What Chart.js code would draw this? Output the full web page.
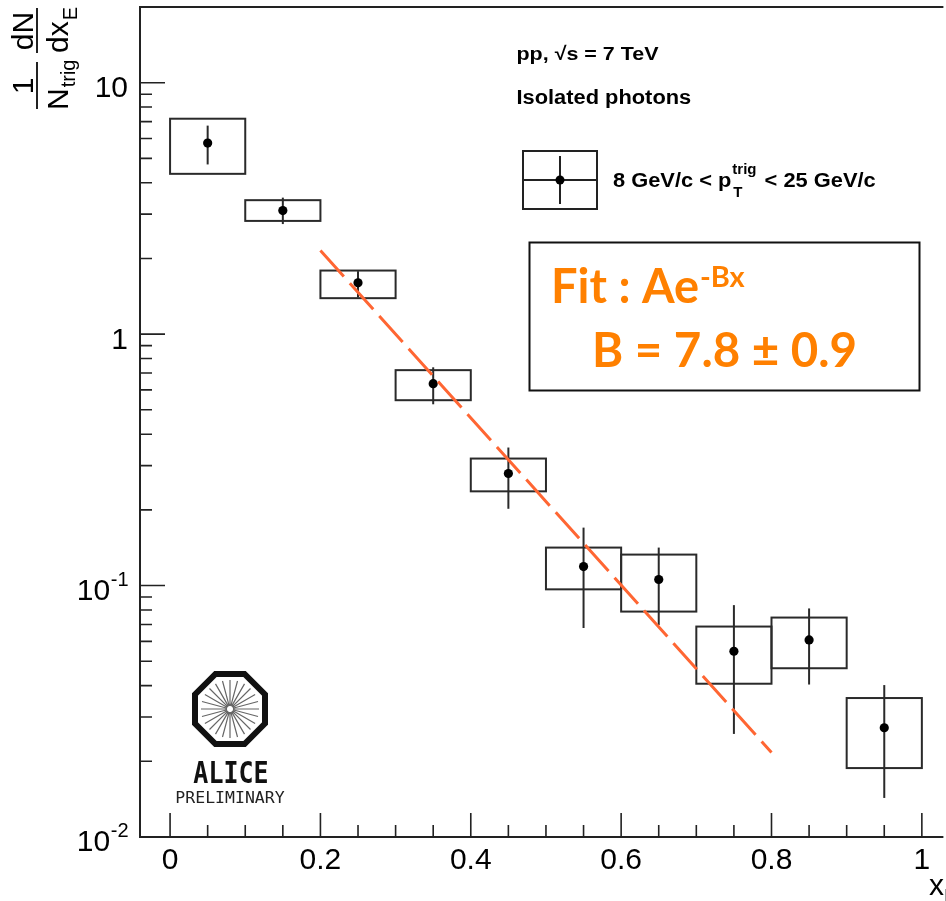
<!DOCTYPE html>
<html lang="en">
<head>
<meta charset="UTF-8">
<title>Isolated photons - xE distribution</title>
<script src="https://cdn.jsdelivr.net/npm/chart.js"></script>
<style>
  html, body { margin: 0; padding: 0; background: #fff; overflow: hidden; }
  #xeChart { display: block; }
</style>
</head>
<body>
<canvas id="xeChart" width="946" height="901"></canvas>
<script>
// xE bins
const binCenters = [0.05, 0.15, 0.25, 0.35, 0.45, 0.55, 0.65, 0.75, 0.85, 0.95];
const binHalfWidth = 0.05;

// 1/Ntrig dN/dxE per bin
const yields   = [5.75, 3.10, 1.60, 0.635, 0.279, 0.119, 0.1057, 0.0548, 0.0608, 0.0272];
// statistical error bars (lower / upper edge)
const statLow  = [4.73, 2.74, 1.40, 0.526, 0.202, 0.0678, 0.0697, 0.0257, 0.0404, 0.0143];
const statHigh = [6.75, 3.49, 1.78, 0.738, 0.354, 0.170, 0.1416, 0.0836, 0.0811, 0.0402];
// systematic boxes (lower / upper edge)
const sysLow   = [4.34, 2.82, 1.39, 0.546, 0.237, 0.0966, 0.0788, 0.0407, 0.0469, 0.0188];
const sysHigh  = [7.19, 3.41, 1.79, 0.719, 0.320, 0.1416, 0.1328, 0.0687, 0.0746, 0.0357];

// exponential fit A*exp(-B x), end points of the fitted range
const fitX = [0.2, 0.8];
const fitY = [2.15, 0.0217];

// axes
const xRange = [-0.04, 1.026];
const yRange = [0.01, 20];
const xMajorTicks = [0, 0.2, 0.4, 0.6, 0.8, 1];
const xMajorLabels = ['0', '0.2', '0.4', '0.6', '0.8', '1'];
const yMajorTicks = [10, 1, 0.1, 0.01];
const yMajorExp = [null, null, '-1', '-2']; // null -> plain label
const yMajorText = ['10', '1', '10', '10'];

const FONT = '"Liberation Sans", Arial, Helvetica, sans-serif';
const INK = '#222';

// draw a text run and return the x where it ends
function run(ctx, text, x, y, font) {
  ctx.font = font;
  ctx.fillText(text, x, y);
  return x + ctx.measureText(text).width;
}

// same, but stretched horizontally by sx
function wideRun(ctx, text, x, y, font, sx) {
  ctx.save();
  ctx.font = font;
  ctx.translate(x, y);
  ctx.scale(sx, 1);
  ctx.fillText(text, 0, 0);
  const w = ctx.measureText(text).width * sx;
  ctx.restore();
  return x + w;
}

// ROOT-like frame, inward ticks and labels
const frameAndTicks = {
  id: 'frameAndTicks',
  afterDraw(chart) {
    const { ctx, chartArea: a, scales: { x, y } } = chart;
    ctx.save();
    ctx.strokeStyle = INK;
    ctx.fillStyle = '#000';
    ctx.lineWidth = 2;

    // frame: left, top, bottom (right side falls outside)
    ctx.beginPath();
    ctx.moveTo(a.right + 2, a.top);
    ctx.lineTo(a.left, a.top);
    ctx.lineTo(a.left, a.bottom);
    ctx.lineTo(a.right + 2, a.bottom);
    ctx.stroke();

    ctx.lineWidth = 1.6;
    ctx.beginPath();
    // x ticks: major every 0.2, minor every 0.05
    for (let i = 0; i <= 20; i++) {
      const v = i * 0.05;
      const px = x.getPixelForValue(v);
      if (px > a.right) continue;
      const len = i % 4 === 0 ? 24 : 12;
      ctx.moveTo(px, a.bottom);
      ctx.lineTo(px, a.bottom - len);
    }
    // y ticks: decades and 2..9 multiples
    for (let e = -2; e <= 1; e++) {
      for (let m = 1; m <= 9; m++) {
        const v = m * Math.pow(10, e);
        if (v >= yRange[1]) continue;
        const py = y.getPixelForValue(v);
        const len = m === 1 ? 25 : 12;
        ctx.moveTo(a.left, py);
        ctx.lineTo(a.left + len, py);
      }
    }
    ctx.stroke();

    // x labels
    ctx.textAlign = 'center';
    ctx.textBaseline = 'alphabetic';
    ctx.font = `30px ${FONT}`;
    xMajorTicks.forEach((v, i) => {
      ctx.fillText(xMajorLabels[i], x.getPixelForValue(v), a.bottom + 31.5);
    });

    // y labels, powers of ten with superscript exponent
    ctx.textAlign = 'left';
    yMajorTicks.forEach((v, i) => {
      const py = y.getPixelForValue(v);
      const base = py + 14.4;
      ctx.font = `30px ${FONT}`;
      const w1 = ctx.measureText(yMajorText[i]).width;
      let w2 = 0;
      if (yMajorExp[i]) {
        ctx.font = `20px ${FONT}`;
        w2 = ctx.measureText(yMajorExp[i]).width;
      }
      const right = a.left - 12;
      const x0 = right - w1 - w2;
      run(ctx, yMajorText[i], x0, base, `30px ${FONT}`);
      if (yMajorExp[i]) run(ctx, yMajorExp[i], x0 + w1 + 0.5, base - 14, `20px ${FONT}`);
    });

    // y title: 1/Ntrig dN/dxE, rotated
    ctx.save();
    ctx.rotate(-Math.PI / 2);
    ctx.textAlign = 'center';
    ctx.font = `30px ${FONT}`;
    ctx.fillText('1', -86, 33);
    ctx.fillText('dN', -31, 33);
    ctx.textAlign = 'left';
    let ex = run(ctx, 'N', -110, 68, `30px ${FONT}`);
    run(ctx, 'trig', ex + 1, 75, `20px ${FONT}`);
    ex = run(ctx, 'dx', -53, 68, `30px ${FONT}`);
    run(ctx, 'E', ex + 1, 77, `20px ${FONT}`);
    ctx.lineWidth = 2;
    ctx.beginPath();
    ctx.moveTo(-109, 37); ctx.lineTo(-62, 37);
    ctx.moveTo(-53, 37); ctx.lineTo(-8, 37);
    ctx.stroke();
    ctx.restore();

    // x title
    ctx.textAlign = 'left';
    run(ctx, 'x', 929, 895, `30px ${FONT}`);
    run(ctx, 'E', 944, 903, `20px ${FONT}`);

    ctx.restore();
  }
};

// systematic boxes and statistical error bars
const errorBoxes = {
  id: 'errorBoxes',
  beforeDatasetsDraw(chart) {
    const { ctx, scales: { x, y } } = chart;
    ctx.save();
    ctx.strokeStyle = '#2a2a2a';
    ctx.lineWidth = 2;
    binCenters.forEach((c, i) => {
      const x0 = x.getPixelForValue(c - binHalfWidth);
      const x1 = x.getPixelForValue(c + binHalfWidth);
      const yTop = y.getPixelForValue(sysHigh[i]);
      const yBot = y.getPixelForValue(sysLow[i]);
      ctx.strokeRect(x0, yTop, x1 - x0, yBot - yTop);
      const xc = x.getPixelForValue(c);
      ctx.beginPath();
      ctx.moveTo(xc, y.getPixelForValue(statHigh[i]));
      ctx.lineTo(xc, y.getPixelForValue(statLow[i]));
      ctx.stroke();
    });
    ctx.restore();
  }
};

// labels, legend, fit result box and experiment logo
const annotations = {
  id: 'annotations',
  afterDraw(chart) {
    const { ctx } = chart;
    ctx.save();
    ctx.fillStyle = '#000';
    ctx.textAlign = 'left';
    ctx.textBaseline = 'alphabetic';

    wideRun(ctx, 'pp, \u221As = 7 TeV', 516.5, 59.5, `bold 19px ${FONT}`, 1.13);
    wideRun(ctx, 'Isolated photons', 516.5, 103.5, `bold 19.5px ${FONT}`, 1.12);

    // legend entry
    ctx.strokeStyle = INK;
    ctx.lineWidth = 2;
    ctx.strokeRect(523, 151, 74, 58);
    ctx.beginPath();
    ctx.moveTo(523, 180); ctx.lineTo(597, 180);
    ctx.moveTo(560, 156); ctx.lineTo(560, 204);
    ctx.stroke();
    ctx.beginPath();
    ctx.arc(560, 180, 4.5, 0, Math.PI * 2);
    ctx.fill();

    let lx = wideRun(ctx, '8 GeV/c < p', 613, 187, `bold 21px ${FONT}`, 1.04);
    ctx.font = `bold 15px ${FONT}`;
    const wSup = ctx.measureText('trig').width;
    run(ctx, 'trig', lx + 1, 174, `bold 15px ${FONT}`);
    run(ctx, 'T', lx + 2, 197, `bold 15px ${FONT}`);
    wideRun(ctx, ' < 25 GeV/c', lx + wSup + 3, 187, `bold 21px ${FONT}`, 1.04);

    // fit result
    ctx.strokeStyle = '#111';
    ctx.lineWidth = 2;
    ctx.strokeRect(529.5, 242.5, 390, 148);
    ctx.fillStyle = '#ff8000';
    const fitFont = '"Lato", "Open Sans", sans-serif';
    lx = run(ctx, 'Fit : Ae', 551, 303, `bold 47px ${fitFont}`);
    run(ctx, '-Bx', lx + 1, 287, `bold 29px ${fitFont}`);
    wideRun(ctx, 'B = 7.8 \u00B1 0.9', 592, 367, `bold 47px ${fitFont}`, 1.01);

    // ALICE preliminary logo
    const cx = 230, cy = 709;
    ctx.strokeStyle = '#666';
    ctx.lineWidth = 1.2;
    ctx.beginPath();
    for (let k = 0; k < 24; k++) {
      const ang = k * Math.PI / 12;
      ctx.moveTo(cx + 3 * Math.cos(ang), cy + 3 * Math.sin(ang));
      ctx.lineTo(cx + 29 * Math.cos(ang), cy + 29 * Math.sin(ang));
    }
    ctx.stroke();
    ctx.strokeStyle = '#111';
    ctx.lineWidth = 6;
    ctx.lineJoin = 'miter';
    const rOct = 35 / Math.cos(Math.PI / 8);
    ctx.beginPath();
    for (let k = 0; k < 8; k++) {
      const ang = Math.PI / 8 + k * Math.PI / 4;
      const px = cx + rOct * Math.cos(ang), py = cy + rOct * Math.sin(ang);
      if (k === 0) ctx.moveTo(px, py); else ctx.lineTo(px, py);
    }
    ctx.closePath();
    ctx.stroke();

    ctx.fillStyle = '#111';
    ctx.textAlign = 'center';
    ctx.save();
    ctx.translate(231, 783);
    ctx.scale(1, 1.22);
    ctx.font = 'bold 25px "DejaVu Sans Mono", monospace';
    ctx.fillText('ALICE', 0, 0);
    ctx.restore();
    ctx.fillStyle = '#222';
    ctx.font = '16.5px "DejaVu Sans Mono", monospace';
    ctx.fillText('PRELIMINARY', 230, 803);

    ctx.restore();
  }
};

new Chart(document.getElementById('xeChart'), {
  type: 'scatter',
  data: {
    datasets: [
      {
        type: 'line',
        label: 'fit',
        data: fitX.map((v, i) => ({ x: v, y: fitY[i] })),
        borderColor: '#ff6633',
        borderWidth: 3,
        borderDash: [35, 9],
        pointRadius: 0,
        fill: false
      },
      {
        label: 'isolated photons',
        data: binCenters.map((v, i) => ({ x: v, y: yields[i] })),
        backgroundColor: '#000',
        borderWidth: 0,
        pointRadius: 4.6
      }
    ]
  },
  options: {
    responsive: false,
    animation: false,
    layout: { padding: { left: 140, top: 7, right: 0, bottom: 64 } },
    scales: {
      x: { type: 'linear', min: xRange[0], max: xRange[1], display: false },
      y: { type: 'logarithmic', min: yRange[0], max: yRange[1], display: false }
    },
    plugins: { legend: { display: false }, tooltip: { enabled: false } }
  },
  plugins: [errorBoxes, frameAndTicks, annotations]
});
</script>
</body>
</html>
